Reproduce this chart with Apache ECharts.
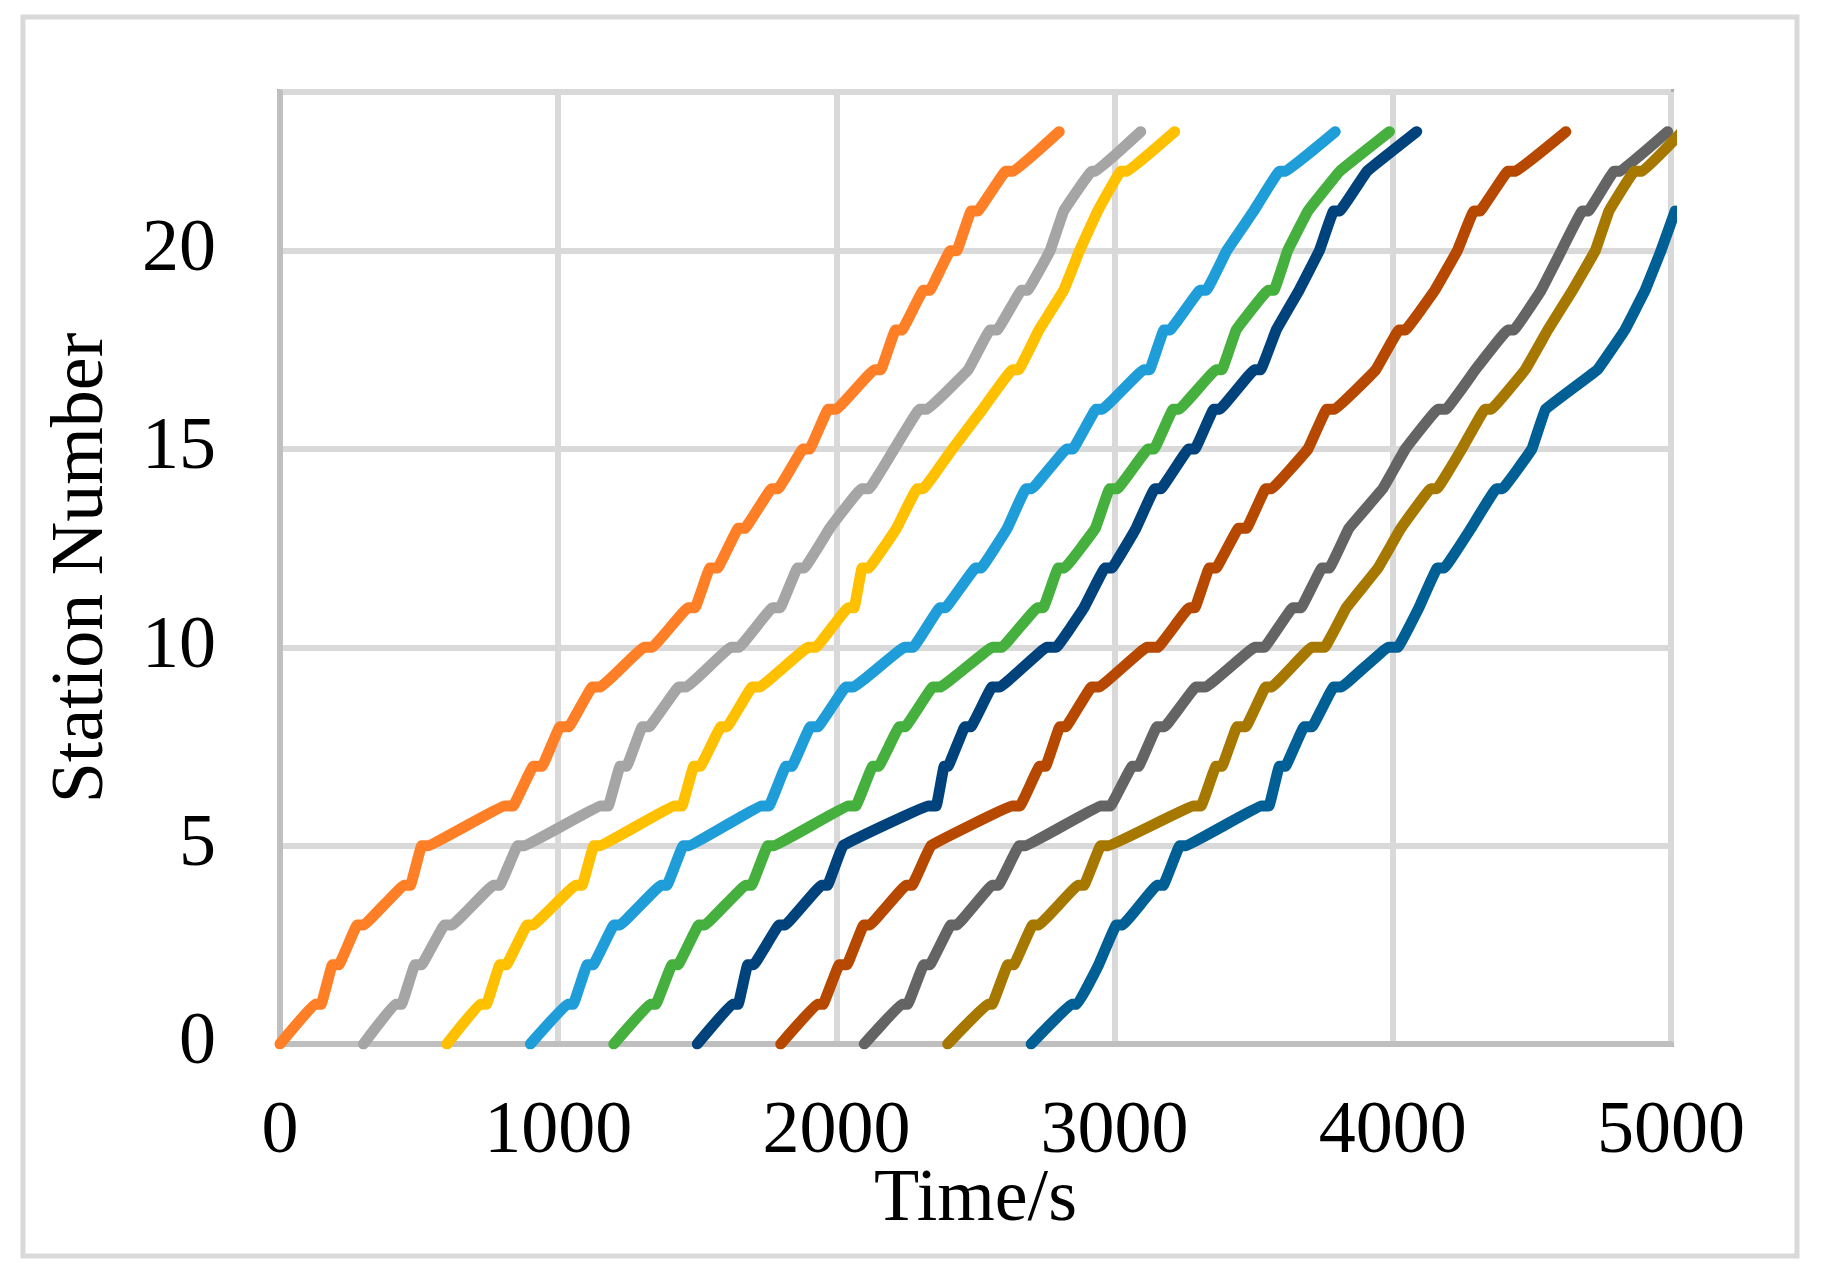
<!DOCTYPE html>
<html>
<head>
<meta charset="utf-8">
<script src="https://cdn.jsdelivr.net/npm/echarts@6/dist/echarts.min.js"></script>
<style>
html,body{margin:0;padding:0;background:#fff;}
#chart{width:1824px;height:1281px;}
</style>
</head>
<body>
<div id="chart"></div>
<script>
// [time (s), station number] points, one array per train
const train1 = [[0,0],[124,1],[148,1],[188,2],[212,2],[277,3],[301,3],[445,4],[469,4],[509,5],[533,5],[806,6],[838,6],[910,7],[942,7],[1006,8],[1038,8],[1122,9],[1152,9],[1308,10],[1338,10],[1466,11],[1492,11],[1545,12],[1573,12],[1647,13],[1671,13],[1767,14],[1791,14],[1880,15],[1904,15],[1970,16],[2000,16],[2136,17],[2160,17],[2212,18],[2236,18],[2312,19],[2336,19],[2409,20],[2433,20],[2484,21],[2508,21],[2608,22],[2636,22],[2801,23]];
const train2 = [[300,0],[413,1],[437,1],[485,2],[509,2],[591,3],[619,3],[766,4],[790,4],[854,5],[878,5],[1152,6],[1180,6],[1222,7],[1246,7],[1302,8],[1327,8],[1433,9],[1461,9],[1620,10],[1650,10],[1770,11],[1798,11],[1860,12],[1885,12],[1976,13],[2090,14],[2118,14],[2208,15],[2298,16],[2326,16],[2474,17],[2552,18],[2578,18],[2665,19],[2687,19],[2768,20],[2817,21],[2917,22],[2931,22],[3094,23]];
const train3 = [[600,0],[718,1],[742,1],[790,2],[814,2],[888,3],[910,3],[1062,4],[1086,4],[1128,5],[1150,5],[1417,6],[1445,6],[1487,7],[1511,7],[1585,8],[1607,8],[1697,9],[1725,9],[1898,10],[1926,10],[2042,11],[2064,11],[2092,12],[2116,12],[2216,13],[2290,14],[2312,14],[2417,15],[2525,16],[2632,17],[2655,17],[2728,18],[2817,19],[2874,20],[2939,21],[3022,22],[3045,22],[3216,23]];
const train4 = [[900,0],[1032,1],[1054,1],[1104,2],[1126,2],[1200,3],[1222,3],[1369,4],[1391,4],[1449,5],[1471,5],[1730,6],[1758,6],[1818,7],[1840,7],[1906,8],[1934,8],[2034,9],[2062,9],[2244,10],[2276,10],[2372,11],[2392,11],[2500,12],[2520,12],[2614,13],[2681,14],[2703,14],[2827,15],[2850,15],[2933,16],[2956,16],[3104,17],[3126,17],[3177,18],[3199,18],[3307,19],[3330,19],[3403,20],[3500,21],[3592,22],[3614,22],[3793,23]];
const train5 = [[1200,0],[1329,1],[1351,1],[1409,2],[1431,2],[1505,3],[1527,3],[1673,4],[1695,4],[1753,5],[1775,5],[2042,6],[2070,6],[2130,7],[2152,7],[2226,8],[2248,8],[2346,9],[2374,9],[2560,10],[2595,10],[2722,11],[2744,11],[2797,12],[2820,12],[2931,13],[2982,14],[3010,14],[3120,15],[3142,15],[3210,16],[3232,16],[3364,17],[3386,17],[3437,18],[3551,19],[3573,19],[3622,20],[3695,21],[3809,22],[3988,23]];
const train6 = [[1500,0],[1625,1],[1647,1],[1681,2],[1703,2],[1794,3],[1816,3],[1946,4],[1968,4],[2024,5],[2331,6],[2359,6],[2387,7],[2401,7],[2462,8],[2484,8],[2559,9],[2588,9],[2755,10],[2790,10],[2890,11],[2965,12],[2990,12],[3077,13],[3144,14],[3167,14],[3266,15],[3289,15],[3356,16],[3378,16],[3502,17],[3525,17],[3581,18],[3663,19],[3736,20],[3787,21],[3809,21],[3907,22],[4086,23]];
const train7 = [[1800,0],[1930,1],[1952,1],[2010,2],[2038,2],[2098,3],[2120,3],[2250,4],[2272,4],[2340,5],[2632,6],[2660,6],[2730,7],[2752,7],[2803,8],[2825,8],[2917,9],[2945,9],[3115,10],[3155,10],[3268,11],[3289,11],[3340,12],[3365,12],[3445,13],[3474,13],[3543,14],[3565,14],[3695,15],[3762,16],[3791,16],[3939,17],[4022,18],[4045,18],[4151,19],[4232,20],[4291,21],[4313,21],[4413,22],[4441,22],[4622,23]];
const train8 = [[2100,0],[2234,1],[2256,1],[2314,2],[2336,2],[2411,3],[2433,3],[2559,4],[2582,4],[2657,5],[2679,5],[2950,6],[2985,6],[3063,7],[3086,7],[3152,8],[3180,8],[3292,9],[3328,9],[3503,10],[3538,10],[3640,11],[3670,11],[3745,12],[3772,12],[3842,13],[3964,14],[4045,15],[4161,16],[4191,16],[4297,17],[4413,18],[4435,18],[4533,19],[4606,20],[4681,21],[4703,21],[4795,22],[4817,22],[4988,23]];
const train9 = [[2400,0],[2543,1],[2560,1],[2616,2],[2638,2],[2705,3],[2728,3],[2868,4],[2890,4],[2950,5],[2978,5],[3283,6],[3311,6],[3364,7],[3386,7],[3440,8],[3472,8],[3543,9],[3565,9],[3708,10],[3755,10],[3833,11],[3947,12],[4029,13],[4136,14],[4159,14],[4248,15],[4331,16],[4354,16],[4476,17],[4557,18],[4646,19],[4728,20],[4777,21],[4868,22],[4897,22],[5040,23]];
const train10 = [[2700,0],[2844,1],[2866,1],[2943,2],[3006,3],[3029,3],[3152,4],[3175,4],[3234,5],[3256,5],[3527,6],[3555,6],[3592,7],[3614,7],[3681,8],[3710,8],[3787,9],[3815,9],[3983,10],[4018,10],[4094,11],[4160,12],[4185,12],[4281,13],[4372,14],[4394,14],[4500,15],[4549,16],[4736,17],[4834,18],[4907,19],[4964,20],[5015,21]];

const trains = [train1, train2, train3, train4, train5, train6, train7, train8, train9, train10];
const colors = ['#FF7F27','#A5A5A5','#FFC000','#1F9DD9','#46B03E','#00427C','#B64800','#646464','#A77800','#006096'];
const xTicks = {min: 0, max: 5000, interval: 1000};
const yTicks = {min: 0, max: 24, interval: 5};

const chart = echarts.init(document.getElementById('chart'), null, {renderer: 'canvas'});
const font = '"Liberation Serif", "Times New Roman", serif';
chart.setOption({
  backgroundColor: '#ffffff',
  animation: false,
  graphic: [{
    type: 'rect', z: -10,
    shape: {x: 23, y: 17, width: 1774, height: 1239},
    style: {fill: 'none', stroke: '#D9D9D9', lineWidth: 5}
  }],
  grid: {left: 280, right: 153, top: 92, bottom: 237, show: true, borderColor: '#B3AEAC', borderWidth: 6, backgroundColor: 'transparent'},
  xAxis: {
    type: 'value', min: xTicks.min, max: xTicks.max, interval: xTicks.interval,
    name: 'Time/s', nameLocation: 'middle', nameGap: 120, nameMoveOverlap: false,
    nameTextStyle: {fontFamily: font, fontSize: 74, color: '#000'},
    axisLine: {show: true, lineStyle: {color: '#BFBFBF', width: 6}},
    axisTick: {show: false},
    axisLabel: {fontFamily: font, fontSize: 74, color: '#000', margin: 52,
      formatter: v => String(v)},
    splitLine: {show: true, lineStyle: {color: '#D9D9D9', width: 6}}
  },
  yAxis: {
    type: 'value', min: yTicks.min, max: yTicks.max, interval: yTicks.interval,
    name: 'Station Number', nameLocation: 'middle', nameGap: 160, nameMoveOverlap: false,
    nameTextStyle: {fontFamily: font, fontSize: 74, color: '#000'},
    axisLine: {show: true, lineStyle: {color: '#BFBFBF', width: 6}},
    axisTick: {show: false},
    axisLabel: {fontFamily: font, fontSize: 74, color: '#000', margin: 64, showMaxLabel: false,
      formatter: v => (v % 5 === 0 ? String(v) : '')},
    splitLine: {show: true, lineStyle: {color: '#D9D9D9', width: 6}}
  },
  series: trains.map((d, i) => ({
    type: 'line', data: d, showSymbol: false, symbol: 'none', clip: true,
    smooth: 0.05,
    lineStyle: {color: colors[i], width: 11, cap: 'round', join: 'round'},
    z: 3
  }))
});
</script>
</body>
</html>
